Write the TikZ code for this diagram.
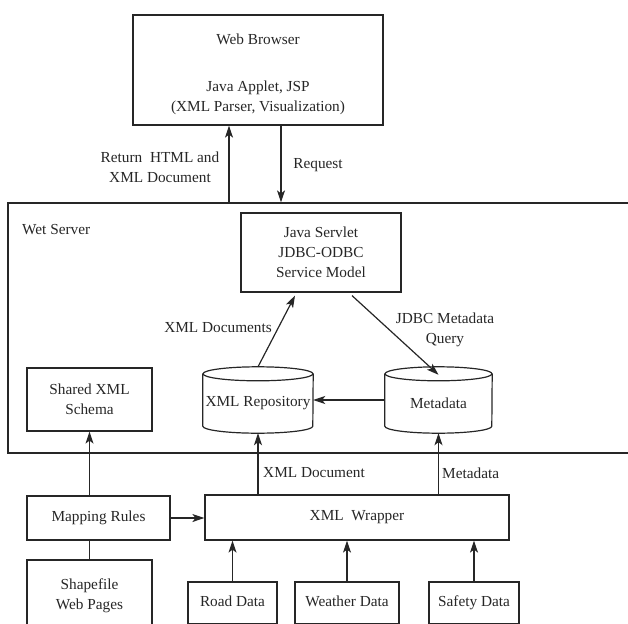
\documentclass[tikz,border=0pt]{standalone}
\usepackage{fontspec}
\setmainfont{Liberation Serif}
\usetikzlibrary{arrows.meta,calc}

\definecolor{ink}{HTML}{262626}

\tikzset{
  every node/.style={text=ink, font=\fontsize{15.3}{20}\selectfont},
  box/.style={draw=ink, line width=1.2pt, align=center, inner sep=0pt},
  source/.style={box, text height=10.5pt, text depth=3.5pt},
  store/.style={align=center, inner sep=0pt},
  lbl/.style={align=center, inner sep=0pt},
  arr/.style={draw=ink, line width=1.2pt, -{Stealth[length=12pt,width=8pt,inset=3pt]}},
  link/.style={draw=ink, line width=1.2pt},
}

% cylinder outline drawn round a named node
\newcommand{\drumshape}[3]{% node, half width, ellipse y radius
  \draw[ink, line width=1.2pt]
    ([yshift=-#3pt]#1.north west) -- ([yshift=#3pt]#1.south west)
    arc[start angle=180, end angle=360, x radius=#2pt, y radius=#3pt]
    -- ([yshift=-#3pt]#1.north east);
  \draw[ink, line width=1.2pt] ([yshift=-#3pt]#1.north)
    ellipse [x radius=#2pt, y radius=#3pt];
}

\begin{document}
\begin{tikzpicture}[x=1pt, y=1pt]
  \useasboundingbox (0,0) rectangle (628,-623);
  \clip (0,0) rectangle (628,-623);

  % web browser
  \node[box, minimum width=250pt, minimum height=110pt] (browser) at (258,-70) {};
  \node[lbl] (browsertitle) at (258,-39) {Web Browser};
  \node[lbl] (browsertext) at (258,-98) {Java Applet, JSP\\(XML Parser, Visualization)};

  % server frame
  \node[box, minimum width=640pt, minimum height=250pt] (server) at (328,-328) {};
  \node[lbl, anchor=west] (servername) at (22,-230) {Wet Server};

  \node[box, minimum width=160pt, minimum height=79pt] (servlet) at (321,-252.5)
    {Java Servlet\\JDBC-ODBC\\Service Model};
  \node[store, minimum width=110pt, minimum height=66pt] (repo) at (258,-400) {};
  \node[lbl] (repotext) at (258,-403) {XML Repository};
  \node[store, minimum width=107pt, minimum height=66pt] (meta) at (438.5,-400) {};
  \node[lbl] (metatext) at (438.5,-403) {Metadata};
  \drumshape{repo}{55}{7}
  \drumshape{meta}{53.5}{7}
  \node[box, minimum width=125pt, minimum height=63pt] (schema) at (89.5,-399.5)
    {Shared XML\\Schema};

  % lower row
  \node[box, minimum width=143pt, minimum height=44pt] (mapping) at (98.5,-518) {Mapping Rules};
  \node[box, minimum width=304pt, minimum height=45pt] (wrapper) at (357,-517.5) {XML\ \ Wrapper};
  \node[box, minimum width=125pt, minimum height=72pt] (shapefile) at (89.5,-596)
    {Shapefile\\Web Pages};
  \node[source, minimum width=89pt, minimum height=42pt] (road) at (232.5,-603) {Road Data};
  \node[source, minimum width=104pt, minimum height=42pt] (weather) at (347,-603) {Weather Data};
  \node[source, minimum width=90pt, minimum height=42pt] (safety) at (474,-603) {Safety Data};

  % browser <-> server
  \draw[arr] ([xshift=-29pt]browser.south |- server.north) -- ([xshift=-29pt]browser.south);
  \draw[arr] ([xshift=23pt]browser.south) -- ([xshift=23pt]browser.south |- server.north);
  \node[lbl] (retlabel) at (160,-167) {Return\ \ HTML and\\XML Document};
  \node[lbl] (reqlabel) at (318,-165) {Request};

  % inside the server
  \draw[arr] (repo.north) -- ([xshift=-26pt,yshift=-3pt]servlet.south);
  \draw[arr] ([xshift=31pt,yshift=-3pt]servlet.south) -- ([yshift=-8pt]meta.north);
  \draw[arr] (meta.west) -- (repo.east);
  \node[lbl, anchor=east] (docslabel) at (272,-328) {XML Documents};
  \node[lbl] (querylabel) at (445,-330) {JDBC Metadata\\Query};

  % lower connections
  \draw[arr] (mapping.north -| schema.south) -- (schema.south);
  \draw[link] (shapefile.north) -- (shapefile.north |- mapping.south);
  \draw[arr] (mapping.east) -- (mapping.east -| wrapper.west);
  \draw[arr] (repo.south |- wrapper.north) -- (repo.south);
  \draw[arr] (meta.south |- wrapper.north) -- (meta.south);
  \node[lbl, anchor=west] (doclabel) at (263,-473) {XML Document};
  \node[lbl, anchor=west] (metalabel) at (442,-473) {Metadata};
  \draw[arr] (road.north) -- (road.north |- wrapper.south);
  \draw[arr] (weather.north) -- (weather.north |- wrapper.south);
  \draw[arr] (safety.north) -- (safety.north |- wrapper.south);
\end{tikzpicture}
\end{document}
